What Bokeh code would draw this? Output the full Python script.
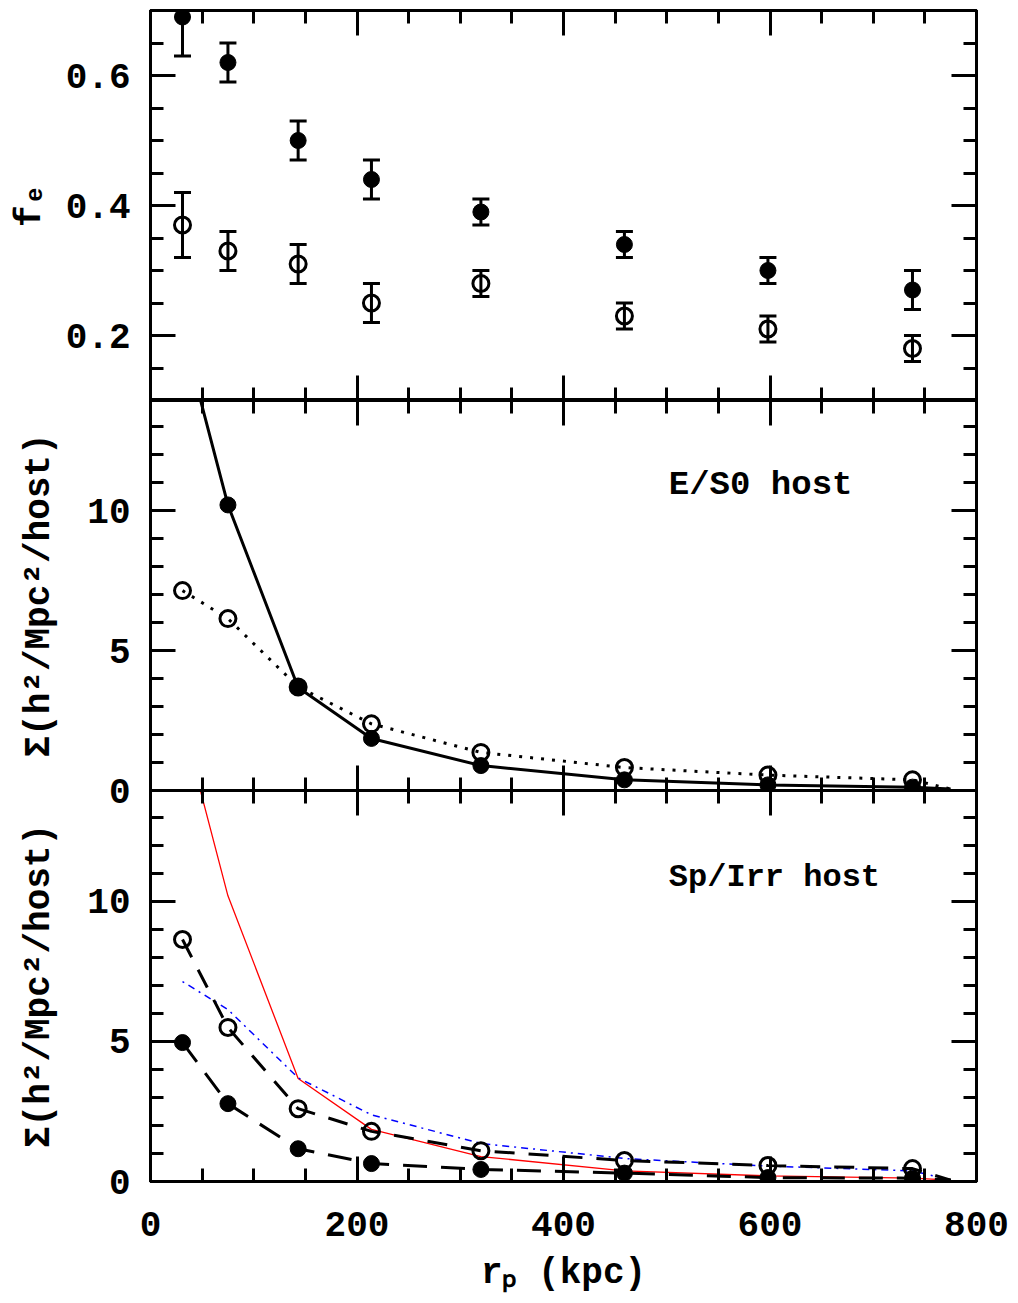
from bokeh.plotting import figure
from bokeh.models import LinearAxis, FixedTicker, Label, Range1d
from bokeh.layouts import column
from bokeh.embed import file_html
from bokeh.resources import INLINE

# ---------------- data ----------------
r_p = [31, 75, 143, 214, 320, 459, 598, 738]
r_end = 775

# top panel: f_e
fe_filled = [0.69, 0.62, 0.50, 0.44, 0.39, 0.34, 0.30, 0.27]
fe_filled_lo = [0.63, 0.59, 0.47, 0.41, 0.37, 0.32, 0.28, 0.24]
fe_filled_hi = [0.75, 0.65, 0.53, 0.47, 0.41, 0.36, 0.32, 0.30]
fe_open = [0.37, 0.33, 0.31, 0.25, 0.28, 0.23, 0.21, 0.18]
fe_open_lo = [0.32, 0.30, 0.28, 0.22, 0.26, 0.21, 0.19, 0.16]
fe_open_hi = [0.42, 0.36, 0.34, 0.28, 0.30, 0.25, 0.23, 0.20]

# middle panel: E/S0 host
es0_filled = [16.4, 10.2, 3.68, 1.86, 0.89, 0.38, 0.20, 0.12]
es0_open = [7.14, 6.14, 3.70, 2.38, 1.36, 0.82, 0.55, 0.38]

# bottom panel: Sp/Irr host
sp_filled = [4.96, 2.78, 1.17, 0.64, 0.43, 0.30, 0.14, 0.12]
sp_open = [8.64, 5.50, 2.60, 1.79, 1.10, 0.75, 0.57, 0.46]
end_value = 0.05

x_major = [0, 200, 400, 600, 800]
x_minor = list(range(0, 801, 50))
fe_major = [0.2, 0.4, 0.6]
fe_minor = [round(0.1 + 0.05 * i, 2) for i in range(13)]
sig_major = [0, 5, 10]
sig_minor = list(range(0, 15))

FONT = "Liberation Mono"
BLACK = "black"
OVERLAP = 32


def style_axis(ax, major, minor, show_labels):
    ax.ticker = FixedTicker(ticks=major, minor_ticks=minor)
    ax.axis_line_width = 3
    ax.axis_line_color = BLACK
    ax.major_tick_in = 25
    ax.major_tick_out = 0
    ax.minor_tick_in = 13
    ax.minor_tick_out = 0
    ax.major_tick_line_width = 3
    ax.minor_tick_line_width = 3
    ax.major_tick_line_color = BLACK
    ax.minor_tick_line_color = BLACK
    ax.axis_label_text_font = FONT
    ax.axis_label_text_font_style = "bold"
    ax.axis_label_text_font_size = "36px"
    ax.axis_label_text_color = BLACK
    if show_labels:
        ax.major_label_text_font = FONT
        ax.major_label_text_font_style = "bold"
        ax.major_label_text_font_size = "36px"
        ax.major_label_text_color = BLACK
    else:
        ax.major_label_overrides = {t: "" for t in major}
        ax.major_label_text_font_size = "0px"
        ax.major_label_standoff = 0
        ax.axis_label_standoff = 0


def make_fig(ylo, yhi, fh, top, bottom, ymaj, ymin, xlabels, ylabel, ylabel_standoff):
    p = figure(frame_width=826, frame_height=fh,
               x_range=Range1d(0, 800), y_range=Range1d(ylo, yhi),
               output_backend="svg", toolbar_location=None,
               x_axis_location=None, y_axis_location=None,
               min_border_left=150, min_border_right=42,
               min_border_top=top, min_border_bottom=bottom)
    p.grid.visible = False
    p.xgrid.visible = False
    p.ygrid.visible = False
    p.outline_line_color = BLACK
    p.outline_line_width = 3
    p.background_fill_alpha = 0
    p.border_fill_alpha = 0

    left = LinearAxis(axis_label=ylabel)
    style_axis(left, ymaj, ymin, True)
    left.major_label_standoff = 20
    left.axis_label_standoff = ylabel_standoff
    p.add_layout(left, "left")
    right = LinearAxis()
    style_axis(right, ymaj, ymin, False)
    p.add_layout(right, "right")
    above = LinearAxis()
    style_axis(above, x_major, x_minor, False)
    p.add_layout(above, "above")
    below = LinearAxis()
    style_axis(below, x_major, x_minor, xlabels)
    if xlabels:
        below.major_label_standoff = 30
        below.axis_label = "rₚ (kpc)"
        below.axis_label_standoff = 14
    p.add_layout(below, "below")
    return p


def text_label(p, x, y, txt, size):
    p.add_layout(Label(x=x, y=y, text=txt,
                       text_font=FONT, text_font_style="bold",
                       text_font_size=size, text_color=BLACK,
                       text_align="left", text_baseline="middle"))


# ---------------- top panel ----------------
p1 = make_fig(0.1, 0.7, 390, 10, 0, fe_major, fe_minor, False, "fₑ", 12)
for y, lo, hi, filled in [(fe_filled, fe_filled_lo, fe_filled_hi, True),
                          (fe_open, fe_open_lo, fe_open_hi, False)]:
    p1.segment(x0=r_p, y0=lo, x1=r_p, y1=hi, line_color=BLACK, line_width=3)
    p1.scatter(r_p, lo, marker="dash", size=17, line_color=BLACK, line_width=3)
    p1.scatter(r_p, hi, marker="dash", size=17, line_color=BLACK, line_width=3)
    if filled:
        p1.scatter(r_p, y, marker="circle", size=16, fill_color=BLACK, line_color=BLACK)
    else:
        p1.scatter(r_p, y, marker="circle", size=16, fill_alpha=0,
                   line_color=BLACK, line_width=3)

# ---------------- middle panel ----------------
p2 = make_fig(0, 13.93, 390, 0, OVERLAP, sig_major, sig_minor, False,
              "Σ(h²/Mpc²/host)", 24)
x_line = r_p + [r_end]
p2.line(x_line, es0_filled + [end_value], line_color=BLACK, line_width=3)
p2.line(x_line, es0_open + [end_value], line_color=BLACK, line_width=3, line_dash="3 8")
p2.scatter(r_p, es0_filled, marker="circle", size=16, fill_color=BLACK, line_color=BLACK)
p2.scatter(r_p, es0_open, marker="circle", size=16, fill_alpha=0, line_color=BLACK, line_width=3)
text_label(p2, 502, 10.9, "E/S0 host", "34px")

# ---------------- bottom panel ----------------
p3 = make_fig(0, 13.96, 391, 0, 122, sig_major, sig_minor, True,
              "Σ(h²/Mpc²/host)", 24)
p3.styles = {"margin-top": f"-{OVERLAP}px"}
p3.line(x_line, es0_filled + [end_value], line_color="red", line_width=1.3)
p3.line(x_line, es0_open + [end_value], line_color="blue", line_width=1.5, line_dash="2 5 7 5")
p3.line(x_line, sp_open + [end_value], line_color=BLACK, line_width=3, line_dash="20 14")
p3.line(x_line, sp_filled + [end_value], line_color=BLACK, line_width=3, line_dash="24 14")
p3.scatter(r_p, sp_filled, marker="circle", size=16, fill_color=BLACK, line_color=BLACK)
p3.scatter(r_p, sp_open, marker="circle", size=16, fill_alpha=0, line_color=BLACK, line_width=3)
text_label(p3, 502, 10.86, "Sp/Irr host", "32px")

layout = column(p1, p2, p3, spacing=0)
open("out.html", "w").write(file_html(layout, INLINE))
